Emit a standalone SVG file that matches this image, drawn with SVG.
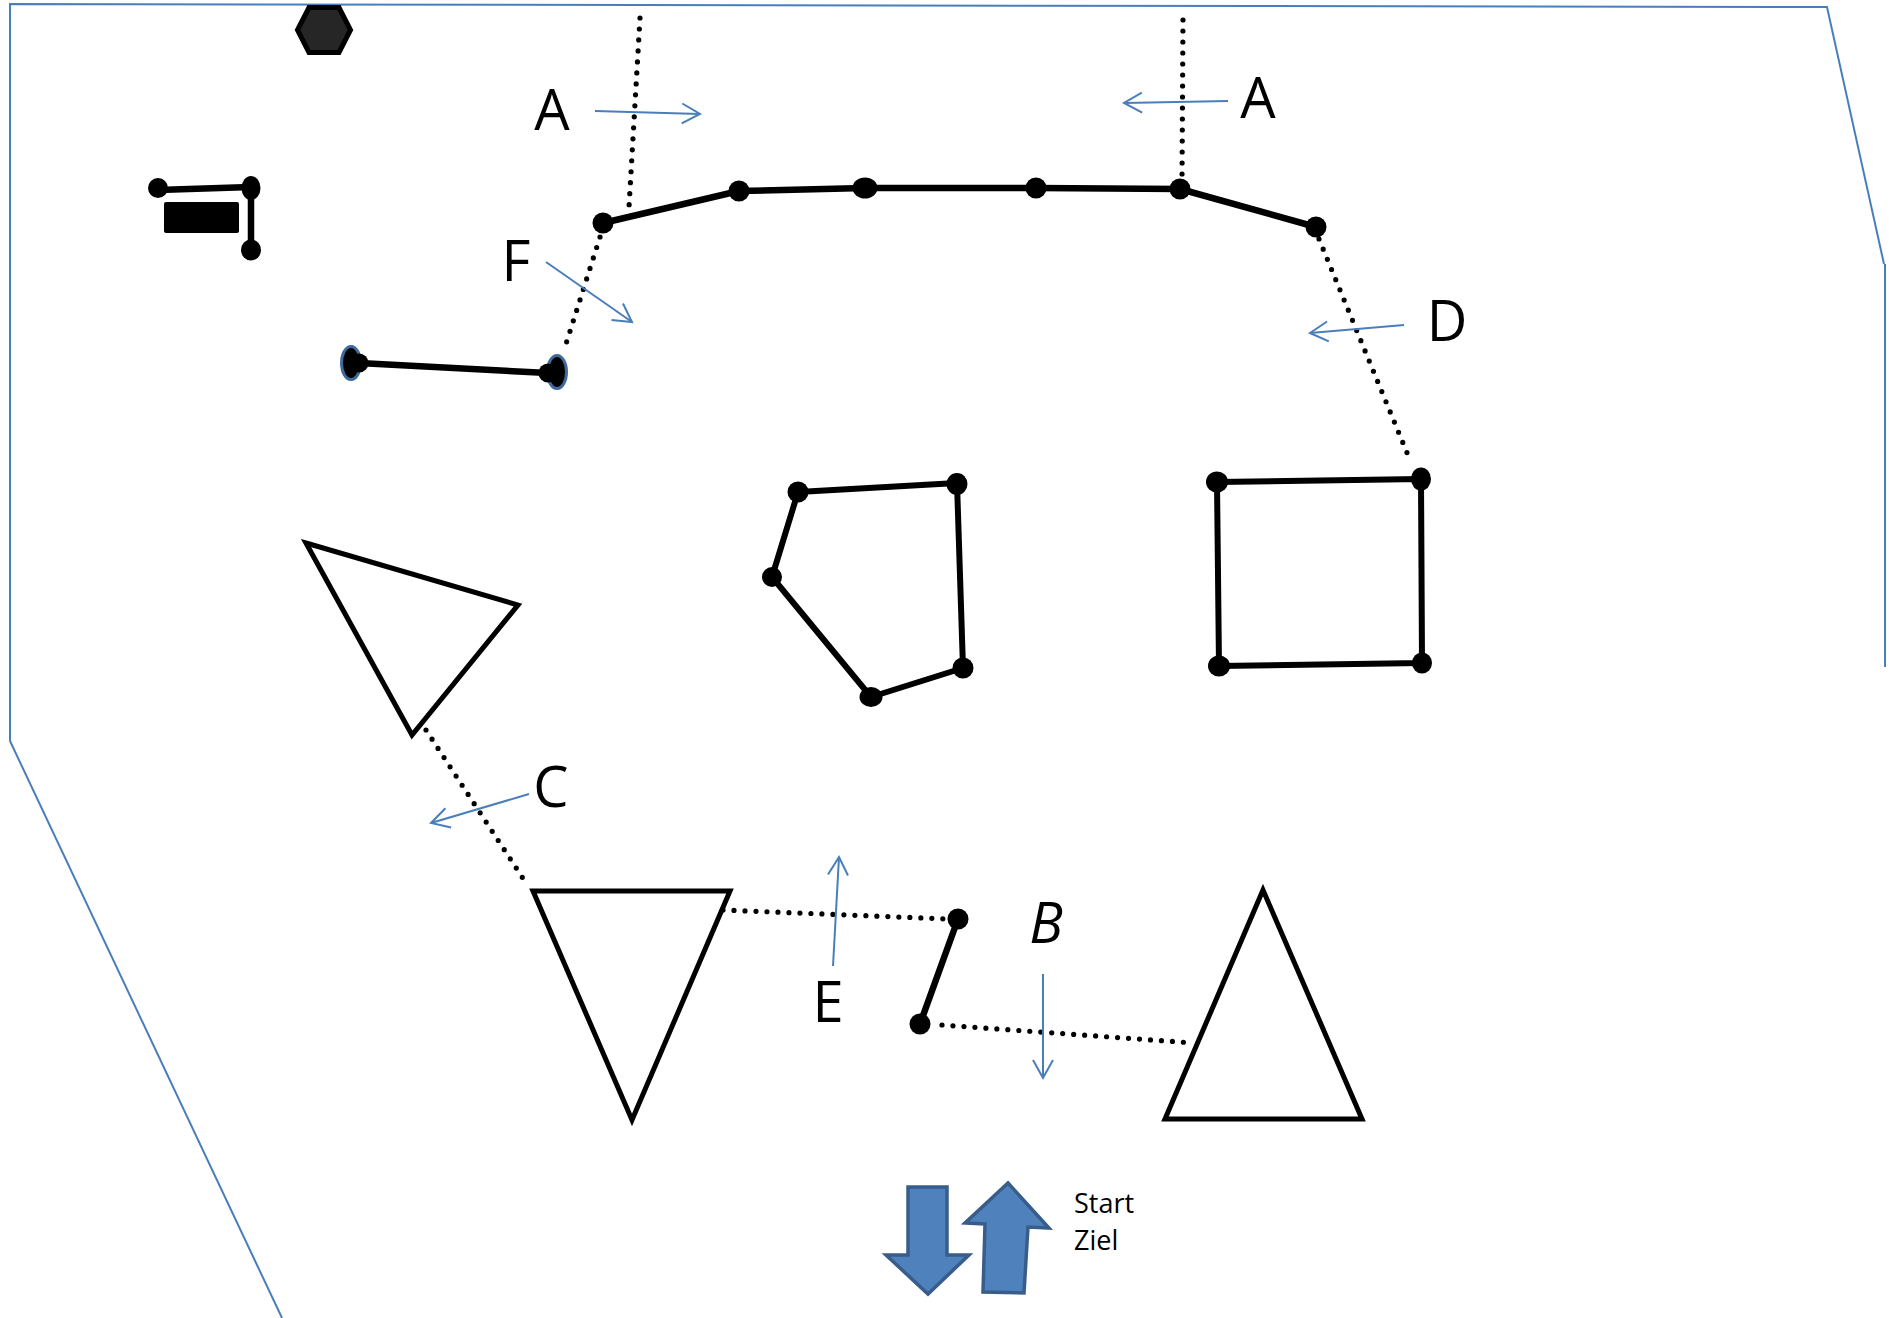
<svg xmlns="http://www.w3.org/2000/svg" width="1890" height="1318" viewBox="0 0 1890 1318">
<style>
  .border { fill: none; stroke: #4A7EBB; stroke-width: 2; }
  .thick { fill: none; stroke: #000; stroke-width: 6.5; stroke-linejoin: round; stroke-linecap: round; }
  .shape { fill: none; stroke: #000; stroke-width: 6; stroke-linejoin: round; }
  .tri { fill: #fff; stroke: #000; stroke-width: 5; stroke-linejoin: miter; }
  .dot { fill: #000; }
  .dotted { fill: none; stroke: #000; stroke-width: 5.2; stroke-linecap: round; stroke-dasharray: 0 11; }
  .dir { fill: none; stroke: #4A7EBB; stroke-width: 2; marker-end: url(#open); }
  .lbl { font-family: "Open Sans", "Liberation Sans", sans-serif; font-size: 56px; fill: #000; text-anchor: middle; }
  .small { font-family: "Open Sans", "Liberation Sans", sans-serif; font-size: 27px; fill: #000; }
  .block { fill: #4F81BD; stroke: #385D8A; stroke-width: 3.5; stroke-linejoin: miter; }
</style>
<defs>
  <marker id="open" markerUnits="userSpaceOnUse" viewBox="-22 -14 26 28" refX="0" refY="0" markerWidth="26" markerHeight="28" orient="auto" overflow="visible">
    <path d="M-18,-10 L0,0 L-18,10" fill="none" stroke="#4A7EBB" stroke-width="2"/>
  </marker>
</defs>
<rect width="1890" height="1318" fill="#fff"/>

<g id="border">
  <polyline class="border" points="282,1318 10,741 10,4 1827,7 1884,264"/>
  <line class="border" x1="1885" y1="264" x2="1885" y2="667" stroke-width="2.6"/>
</g>

<g id="hexagon">
  <polygon points="297.5,30 309,7.5 339,7.5 350.5,30 339,52.5 309,52.5" fill="#262626" stroke="#000" stroke-width="5"/>
</g>

<g id="post-topleft">
  <polyline class="thick" points="158,190 251,187 251,250"/>
  <rect x="164" y="202" width="75" height="31" rx="2" fill="#000"/>
  <circle class="dot" cx="158" cy="188" r="10"/>
  <ellipse class="dot" cx="251" cy="188" rx="9.5" ry="12"/>
  <ellipse class="dot" cx="251" cy="250" rx="10" ry="10.5"/>
</g>

<g id="fence-top">
  <polyline class="thick" points="603,223 739,191 865,188 1036,188 1180,189 1316,227"/>
  <circle class="dot" cx="603" cy="223" r="10.5"/>
  <circle class="dot" cx="739" cy="191" r="10.5"/>
  <ellipse class="dot" cx="865" cy="188" rx="12.5" ry="10.5"/>
  <circle class="dot" cx="1036" cy="188" r="10.5"/>
  <circle class="dot" cx="1180" cy="189" r="10.5"/>
  <circle class="dot" cx="1316" cy="227" r="10.5"/>
</g>

<g id="bar-left">
  <line class="thick" x1="359" y1="363" x2="548" y2="373"/>
  <ellipse cx="351" cy="363" rx="9.5" ry="16.5" fill="#000" stroke="#3F6A9E" stroke-width="3"/>
  <ellipse cx="557" cy="372" rx="9.5" ry="16.5" fill="#000" stroke="#3F6A9E" stroke-width="3"/>
  <circle class="dot" cx="359" cy="363" r="9.5"/>
  <circle class="dot" cx="548" cy="373" r="9.5"/>
</g>

<g id="pentagon">
  <polygon class="shape" points="798,492 957,483 963,668 871,697 772,577"/>
  <circle class="dot" cx="798" cy="492" r="10.5"/>
  <ellipse class="dot" cx="957" cy="484" rx="10.5" ry="11"/>
  <circle class="dot" cx="963" cy="668" r="10.5"/>
  <ellipse class="dot" cx="871" cy="697" rx="11.5" ry="10"/>
  <circle class="dot" cx="772" cy="577" r="10"/>
</g>

<g id="square">
  <polygon class="shape" points="1217,482 1421,479 1422,663 1219,666"/>
  <ellipse class="dot" cx="1217" cy="482" rx="11" ry="10.5"/>
  <ellipse class="dot" cx="1421" cy="479" rx="10" ry="11.5"/>
  <ellipse class="dot" cx="1422" cy="663" rx="10" ry="10.5"/>
  <ellipse class="dot" cx="1219" cy="666" rx="11" ry="10.5"/>
</g>

<g id="triangle-left">
  <polygon class="tri" points="306,543 518,605 412,735"/>
</g>
<g id="triangle-down">
  <polygon class="tri" points="533,891 730,891 632,1120"/>
</g>
<g id="triangle-up">
  <polygon class="tri" points="1263,890 1165,1119 1362,1119"/>
</g>

<g id="bar-small">
  <line class="thick" x1="958" y1="919" x2="920" y2="1024"/>
  <circle class="dot" cx="958" cy="919" r="10.5"/>
  <circle class="dot" cx="920" cy="1024" r="10.5"/>
</g>

<g id="connectors">
  <line class="dotted" x1="640" y1="18" x2="629" y2="207"/>
  <line class="dotted" x1="1183" y1="20" x2="1182" y2="180"/>
  <line class="dotted" x1="600" y1="237" x2="565" y2="347"/>
  <line class="dotted" x1="1319" y1="239" x2="1410" y2="460"/>
  <line class="dotted" x1="426" y1="730" x2="526" y2="883"/>
  <line class="dotted" x1="723" y1="910" x2="948" y2="919"/>
  <line class="dotted" x1="942" y1="1025" x2="1194" y2="1043"/>

  <line class="dir" x1="595" y1="111" x2="700" y2="114"/>
  <line class="dir" x1="1228" y1="101" x2="1124" y2="103"/>
  <line class="dir" x1="546" y1="262" x2="632" y2="322"/>
  <line class="dir" x1="1404" y1="325" x2="1310" y2="333"/>
  <line class="dir" x1="529" y1="794" x2="431" y2="823"/>
  <line class="dir" x1="833" y1="966" x2="839" y2="857"/>
  <line class="dir" x1="1043" y1="974" x2="1043" y2="1078"/>
</g>

<g id="labels">
  <text class="lbl" x="552" y="130">A</text>
  <text class="lbl" x="1258" y="118">A</text>
  <text class="lbl" x="516" y="281">F</text>
  <text class="lbl" x="1447" y="341">D</text>
  <text class="lbl" x="551" y="807">C</text>
  <text class="lbl" x="828" y="1022">E</text>
  <text class="lbl" x="1046" y="943" font-style="italic">B</text>
</g>

<g id="start-ziel">
  <polygon class="block" points="908,1187 947,1187 947,1255 969,1255 928,1294 886,1255 908,1255"/>
  <polygon class="block" points="1008,1183 1049,1228 1028,1227 1024,1293 983,1292 985,1224 965,1223"/>
  <text class="small" x="1074" y="1213">Start</text>
  <text class="small" x="1074" y="1250">Ziel</text>
</g>
</svg>
